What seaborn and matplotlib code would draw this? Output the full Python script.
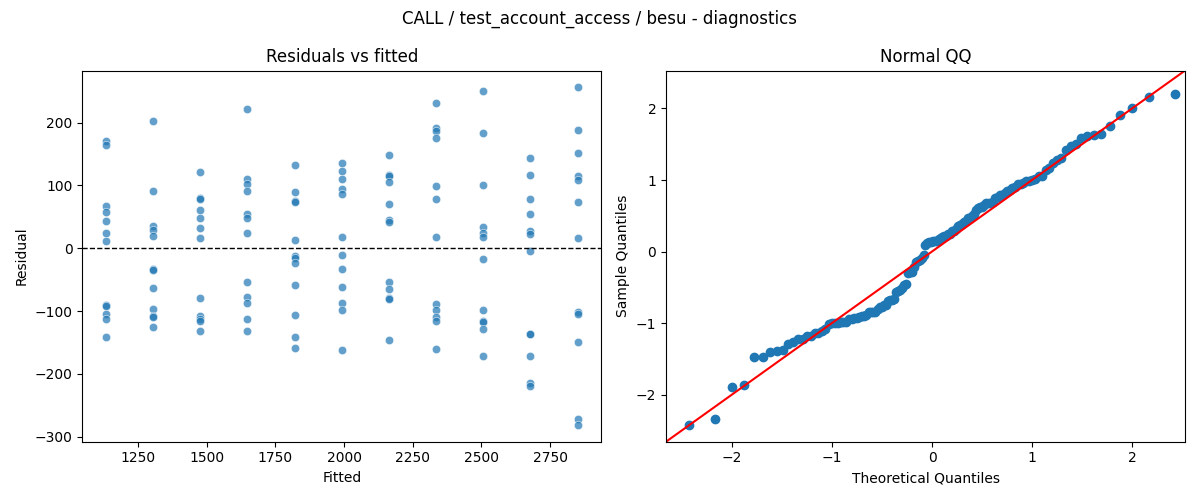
import statistics
import numpy as np
import pandas as pd
import seaborn as sns
import matplotlib
matplotlib.use("Agg")
import matplotlib.pyplot as plt

# valores ajustados (11 niveles) y residuos
fitted_levels = [1133, 1305, 1476, 1648, 1820, 1992, 2163, 2335, 2507, 2678, 2850]
residuals_by_level = [
    [171, 165, 68, 57, 44, 25, 11, -90, -92, -104, -113, -141],
    [203, 91, 36, 29, 20, -33, -35, -63, -97, -107, -109, -125],
    [122, 80, 79, 61, 49, 33, 16, -79, -107, -113, -115, -131],
    [221, 110, 103, 91, 55, 48, 24, -54, -77, -87, -113, -131],
    [133, 89, 75, 73, 14, -13, -15, -24, -59, -106, -141, -159],
    [135, 123, 111, 95, 87, 18, -10, -33, -62, -87, -98, -162],
    [148, 117, 115, 105, 71, 45, 42, -53, -65, -79, -80, -146],
    [232, 191, 187, 175, 99, 78, 18, -89, -98, -109, -115, -161],
    [251, 184, 100, 34, 25, 18, -17, -98, -115, -117, -128, -171],
    [144, 116, 79, 54, 28, 22, -5, -136, -137, -171, -215, -219],
    [256, 189, 152, 115, 109, 73, 16, -102, -104, -149, -271, -281],
]

df = pd.DataFrame(
    [(f, r) for f, rs in zip(fitted_levels, residuals_by_level) for r in rs],
    columns=["fitted", "resid"],
)

# cuantiles para el QQ (residuos estandarizados vs normal teorica)
resid = np.sort(df["resid"].to_numpy(dtype=float))
n = len(resid)
sample_q = (resid - resid.mean()) / resid.std()
nd = statistics.NormalDist()
theo_q = np.array([nd.inv_cdf(i / (n + 1)) for i in range(1, n + 1)])

fig, axes = plt.subplots(1, 2, figsize=(12, 5), dpi=100)

ax = axes[0]
sns.scatterplot(data=df, x="fitted", y="resid", alpha=0.7, ax=ax)
ax.axhline(0, color="k", linestyle="--", linewidth=1)
ax.set_title("Residuals vs fitted")
ax.set_xlabel("Fitted")
ax.set_ylabel("Residual")

ax = axes[1]
sns.scatterplot(x=theo_q, y=sample_q, color="C0", edgecolor="C0", linewidth=1, s=36, ax=ax)
ax.axline((0, 0), slope=1, color="red", linewidth=1.5)
ax.set_xlim(-2.66, 2.53)
ax.set_ylim(-2.66, 2.53)
ax.set_title("Normal QQ")
ax.set_xlabel("Theoretical Quantiles")
ax.set_ylabel("Sample Quantiles")

fig.suptitle("CALL / test_account_access / besu - diagnostics")
plt.tight_layout()
plt.savefig("out.png")
